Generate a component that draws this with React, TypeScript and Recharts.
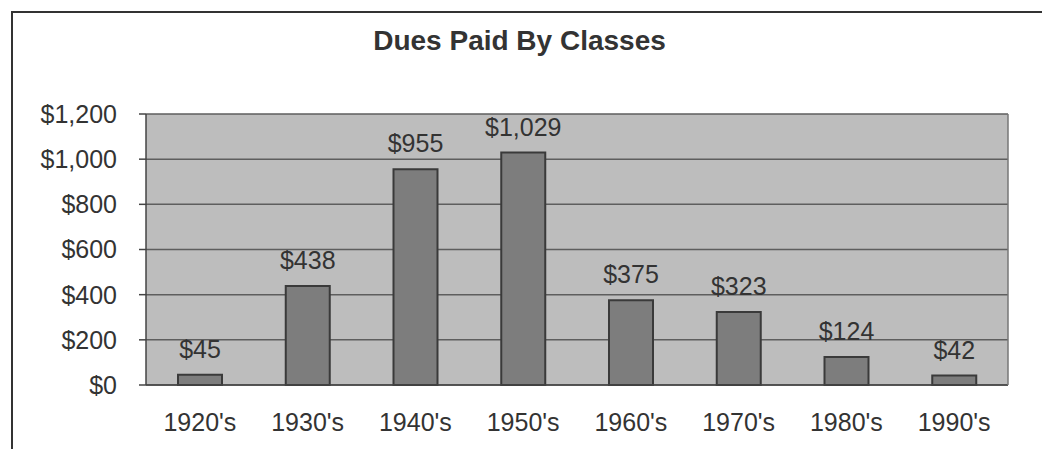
import * as React from 'react'
import {
  BarChart,
  Bar,
  XAxis,
  YAxis,
  CartesianGrid,
  LabelList,
} from 'recharts'

const decades = ["1920's", "1930's", "1940's", "1950's", "1960's", "1970's", "1980's", "1990's"]
const duesPaid = [45, 438, 955, 1029, 375, 323, 124, 42]
const yTicks = [0, 200, 400, 600, 800, 1000, 1200]
const boundaryTicks = [0, 1, 2, 3, 4, 5, 6, 7, 8]

const data = decades.map((decade, i) => ({ decade, dues: duesPaid[i] }))

const textColor = '#333333'
const fontFamily = '"Liberation Sans", Arial, sans-serif'

const formatDollar = (v: number) => '$' + v.toLocaleString('en-US')

export default function App() {
  return (
    <div
      style={{
        position: 'relative',
        marginLeft: 3,
        marginTop: 3,
        width: 1030,
        height: 436,
        borderTop: '2px solid #333',
        borderLeft: '2px solid #333',
        borderRight: '2px solid #333',
        background: '#fff',
        fontFamily,
      }}
    >
      <div
        style={{
          position: 'absolute',
          top: 13,
          left: 0,
          width: 1013,
          textAlign: 'center',
          fontSize: 28,
          lineHeight: '30px',
          fontWeight: 'bold',
          color: textColor,
        }}
      >
        Dues Paid By Classes
      </div>
      <BarChart
        width={1030}
        height={436}
        data={data}
        margin={{ top: 101, right: 34, bottom: 0, left: 0 }}
        barSize={44}
      >
        <CartesianGrid
          vertical={false}
          stroke="#5e5e5e"
          strokeWidth={1.5}
          fill="#bdbdbd"
          yAxisId="left"
        />
        <XAxis
          xAxisId="b"
          dataKey="decade"
          axisLine={false}
          tickLine={false}
          tickSize={0}
          tickMargin={20}
          height={56}
          interval={0}
          tick={{ fill: textColor, fontSize: 25, fontFamily }}
        />
        <XAxis
          xAxisId="a"
          type="number"
          domain={[0, 8]}
          ticks={boundaryTicks}
          tick={false}
          tickSize={7}
          height={8}
          stroke="#444"
          strokeWidth={1.5}
          allowDataOverflow
        />
        <YAxis
          yAxisId="left"
          domain={[0, 1200]}
          ticks={yTicks}
          width={133}
          tickSize={7}
          tickMargin={22}
          stroke="#444"
          strokeWidth={1.5}
          tickFormatter={formatDollar}
          tick={{ fill: textColor, fontSize: 25, fontFamily }}
        />
        <YAxis
          yAxisId="right"
          orientation="right"
          width={1}
          tick={false}
          tickLine={false}
          stroke="#777"
          strokeWidth={1.5}
          domain={[0, 1200]}
        />
        <Bar
          dataKey="dues"
          xAxisId="b"
          yAxisId="left"
          fill="#7d7d7d"
          stroke="#3a3a3a"
          strokeWidth={2}
          isAnimationActive={false}
        >
          <LabelList
            dataKey="dues"
            position="top"
            offset={17}
            formatter={(v: any) => formatDollar(Number(v))}
            style={{ fill: textColor, fontSize: 25, fontFamily }}
          />
        </Bar>
      </BarChart>
    </div>
  )
}
